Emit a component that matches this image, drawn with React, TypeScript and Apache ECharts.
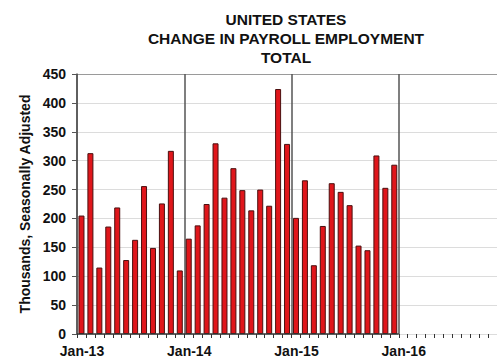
import React, { useEffect, useRef } from "react";
import * as echarts from "echarts";

// Monthly change in US payroll employment (thousands), Jan-13 .. Dec-15
const payroll2013 = [205, 313, 115, 186, 219, 128, 163, 256, 149, 226, 317, 110];
const payroll2014 = [165, 188, 225, 330, 236, 287, 249, 214, 250, 222, 424, 329];
const payroll2015 = [201, 266, 119, 187, 261, 246, 223, 153, 145, 309, 253, 293];
const yearTickLabels = ["Jan-13", "Jan-14", "Jan-15", "Jan-16"];
const monthsShown = 48; // Jan-13 .. Dec-16 on the axis
const yTicks = [0, 50, 100, 150, 200, 250, 300, 350, 400, 450];
const titleLines = ["UNITED STATES", "CHANGE IN PAYROLL EMPLOYMENT", "TOTAL"];
const yAxisName = "Thousands, Seasonally Adjusted";

const FONT = "'Liberation Sans', Arial, sans-serif";

export default function App() {
  const ref = useRef<HTMLDivElement>(null);
  useEffect(() => {
    if (!ref.current) return;
    const chart = echarts.init(ref.current, undefined, { renderer: "svg" });
    const values = [...payroll2013, ...payroll2014, ...payroll2015];
    const barData = values.map((v, i) => [i + 0.5, v]);
    const gridColors = yTicks.map((t, i) => (i === yTicks.length - 1 ? "#9a9a9a" : "#dcdcdc"));
    chart.setOption({
      animation: false,
      backgroundColor: "#ffffff",
      title: {
        text: titleLines.join("\n"),
        left: 286,
        top: 10,
        padding: 0,
        textAlign: "center",
        textStyle: {
          fontFamily: FONT,
          fontSize: 15.5,
          fontWeight: "bold",
          color: "#111",
          lineHeight: 19,
        },
      },
      grid: { left: 77, top: 74, right: 0, bottom: 21, containLabel: false },
      xAxis: {
        type: "value",
        min: 0,
        max: monthsShown,
        interval: 12,
        axisLine: { show: false },
        axisTick: { show: true, length: 4, lineStyle: { color: "#333", width: 1 } },
        minorTick: { show: true, splitNumber: 12, length: 4, lineStyle: { color: "#333", width: 1 } },
        splitLine: { show: true, lineStyle: { color: "#555", width: 1.5 } },
        axisLabel: {
          margin: 10,
          fontFamily: FONT,
          fontSize: 14,
          fontWeight: "bold",
          color: "#111",
          padding: [0, 0, 0, 10],
          formatter: (v: number) => (v % 12 === 0 ? yearTickLabels[v / 12] ?? "" : ""),
        },
      },
      yAxis: {
        type: "value",
        min: 0,
        max: 450,
        interval: 50,
        name: yAxisName,
        nameLocation: "middle",
        nameGap: 41,
        nameTextStyle: { fontFamily: FONT, fontSize: 14, fontWeight: "bold", color: "#111" },
        axisLine: { show: true, lineStyle: { color: "#555", width: 1.5 } },
        axisTick: { show: true, length: 5, lineStyle: { color: "#555" } },
        splitLine: { show: true, lineStyle: { color: gridColors, width: 1 } },
        axisLabel: {
          margin: 11,
          fontFamily: FONT,
          fontSize: 14,
          fontWeight: "bold",
          color: "#111",
        },
      },
      series: [
        {
          type: "bar",
          data: barData,
          barWidth: 6,
          itemStyle: { color: "#e0161b", borderColor: "#4a0f0f", borderWidth: 1 },
          markLine: {
            silent: true,
            symbol: "none",
            label: { show: false },
            lineStyle: { color: "#333", width: 1.5, type: "solid" },
            data: [[{ coord: [0, 0] }, { coord: [36, 0] }]],
          },
        },
      ],
    });
    return () => chart.dispose();
  }, []);
  return (
    <div
      style={{
        position: "absolute",
        left: 0,
        top: 0,
        width: 497,
        height: 358,
        overflow: "hidden",
        background: "#fff",
      }}
    >
      <div ref={ref} style={{ width: 509, height: 358 }} />
    </div>
  );
}
